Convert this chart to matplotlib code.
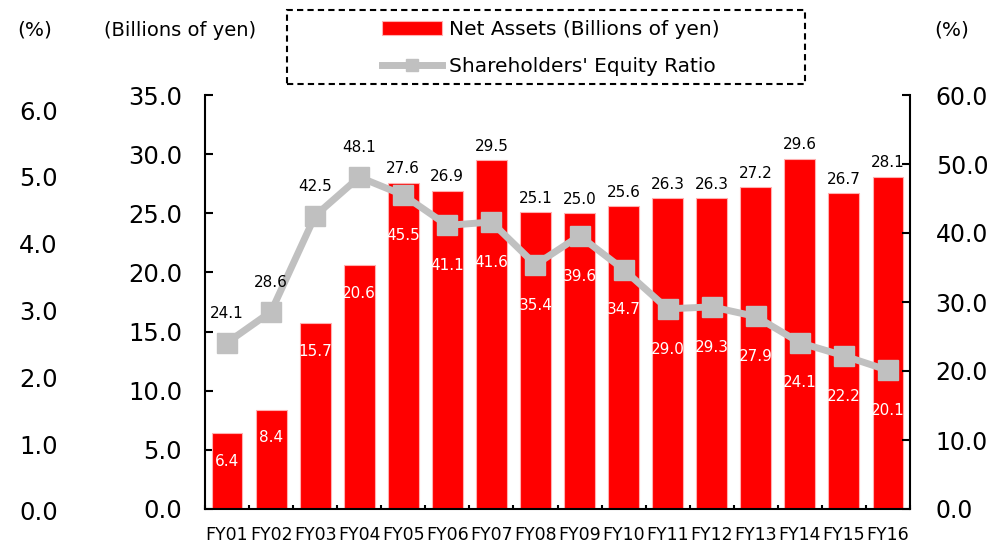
import matplotlib
matplotlib.use('Agg')
from matplotlib import pyplot as plt
from matplotlib.patches import Rectangle
import numpy as np

plt.rcParams['font.family'] = ['DejaVu Sans']

years = ['FY01', 'FY02', 'FY03', 'FY04', 'FY05', 'FY06', 'FY07', 'FY08',
         'FY09', 'FY10', 'FY11', 'FY12', 'FY13', 'FY14', 'FY15', 'FY16']
net_assets = [6.4, 8.4, 15.7, 20.6, 27.6, 26.9, 29.5, 25.1,
              25.0, 25.6, 26.3, 26.3, 27.2, 29.6, 26.7, 28.1]
equity_ratio = [24.1, 28.6, 42.5, 48.1, 45.5, 41.1, 41.6, 35.4,
                39.6, 34.7, 29.0, 29.3, 27.9, 24.1, 22.2, 20.1]
left_ticks = [0, 5, 10, 15, 20, 25, 30, 35]
right_ticks = [0, 10, 20, 30, 40, 50, 60]
pct_ticks = [0, 1, 2, 3, 4, 5, 6]

W, H = 1001, 547
fig = plt.figure(figsize=(W / 100, H / 100), dpi=100)

# main axes (bars)
ax = fig.add_axes([205 / W, 1 - 509 / H, 705 / W, 414 / H])
x = np.arange(len(years))
bars = ax.bar(x, net_assets, width=0.7, color='#ff0000', edgecolor='#ffb0b0',
              linewidth=0.8, zorder=2)
ax.set_xlim(-0.5, len(years) - 0.5)
ax.set_ylim(0, 35)
ax.set_yticks(left_ticks)
ax.set_yticklabels(['%.1f' % v for v in left_ticks])
ax.tick_params(axis='y', direction='in', length=6, width=1.5, pad=16.5, labelsize=17.5)
ax.set_xticks(x)
ax.set_xticklabels(years)
ax.tick_params(axis='x', which='major', length=0, pad=12.5, labelsize=12.5)
ax.set_xticks(np.arange(len(years) + 1) - 0.5, minor=True)
ax.tick_params(axis='x', which='minor', direction='in', length=3, width=1.5)
for s in ['top', 'right']:
    ax.spines[s].set_visible(False)
for s in ['left', 'bottom']:
    ax.spines[s].set_linewidth(1.5)

# bar value labels
for i, v in enumerate(net_assets):
    if i < 4:
        ax.annotate('%.1f' % v, (i, v), xytext=(0, -20), textcoords='offset points',
                    ha='center', va='center', fontsize=11, color='white', zorder=3)
    else:
        ax.annotate('%.1f' % v, (i, v), xytext=(0, 10), textcoords='offset points',
                    ha='center', va='center', fontsize=11, color='black', zorder=3)

# right axes (ratio line)
ax2 = ax.twinx()
line, = ax2.plot(x, equity_ratio, color='#c0c0c0', linewidth=5, marker='s',
                 markersize=15, zorder=3)
ax2.set_ylim(0, 60)
ax2.set_yticks(right_ticks)
ax2.set_yticklabels(['%.1f' % v for v in right_ticks])
ax2.tick_params(axis='y', direction='in', length=6, width=1.5, pad=18.5, labelsize=17)
for s in ['top', 'left', 'bottom']:
    ax2.spines[s].set_visible(False)
ax2.spines['right'].set_linewidth(1.5)

for i, v in enumerate(equity_ratio):
    if i < 4:
        ax2.annotate('%.1f' % v, (i, v), xytext=(0, 21), textcoords='offset points',
                     ha='center', va='center', fontsize=11, color='black')
    else:
        ax2.annotate('%.1f' % v, (i, v), xytext=(0, -29), textcoords='offset points',
                     ha='center', va='center', fontsize=11, color='white')

# leftover (%) axis on the far left
ax3 = fig.add_axes([62 / W, 1 - 511 / H, 0.001, 401 / H])
ax3.set_ylim(0, 6)
ax3.set_yticks(pct_ticks)
ax3.set_yticklabels(['%.1f' % v for v in pct_ticks])
ax3.tick_params(axis='y', length=0, pad=3, labelsize=17.5)
ax3.set_xticks([])
for s in ax3.spines.values():
    s.set_visible(False)
ax3.patch.set_alpha(0)

# unit labels
fig.text(35 / W, 1 - 30 / H, '(%)', ha='center', va='center', fontsize=14.5)
fig.text(180 / W, 1 - 30 / H, '(Billions of yen)', ha='center', va='center', fontsize=14)
fig.text(952 / W, 1 - 30 / H, '(%)', ha='center', va='center', fontsize=14.5)

# legend with dashed box
fig.patches.append(Rectangle((287 / W, 1 - 84 / H), 518 / W, 74 / H,
                             transform=fig.transFigure, fill=False,
                             edgecolor='black', linewidth=1.5, linestyle=(0, (3, 2))))
leg = fig.legend([bars, line], ['Net Assets (Billions of yen)', "Shareholders' Equity Ratio"],
                 loc='center', bbox_to_anchor=(551 / W, 1 - 48 / H), frameon=False,
                 fontsize=14.5, handlelength=3.0, handletextpad=0.35, labelspacing=0.9,
                 numpoints=1, markerscale=0.55)

plt.savefig('out.png', dpi=100)
